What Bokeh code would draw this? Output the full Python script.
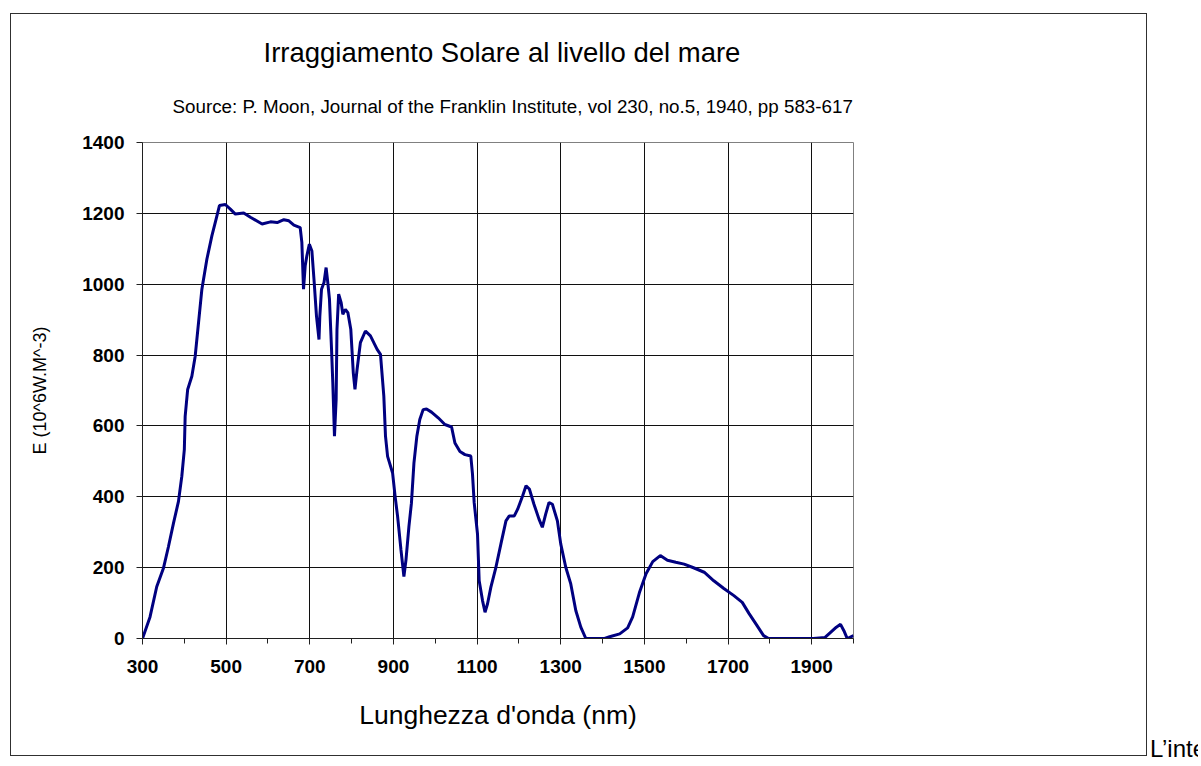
from bokeh.plotting import figure
from bokeh.models import Range1d, FixedTicker, Title, ColumnDataSource, Div
from bokeh.layouts import row
from bokeh.embed import file_html
from bokeh.resources import INLINE

# ---- data ----
wavelength_nm = [300, 318, 334, 350, 362, 374, 386, 394, 400, 402, 408, 418, 426, 434, 442, 454, 466, 476, 484, 498,
                 510, 522, 542, 558, 586, 606, 622, 638, 650, 662, 677, 681, 685, 689, 693, 699, 705, 710, 716, 722,
                 724, 728, 734, 739, 743, 747, 752, 755, 759, 763, 765, 769, 775, 779, 785, 791, 798, 804, 808, 813,
                 821, 833, 845, 861, 869, 877, 881, 886, 898, 904, 910, 918, 925, 930, 937, 943, 949, 956, 963, 971,
                 979, 991, 1007, 1023, 1039, 1047, 1059, 1071, 1085, 1089, 1093, 1101, 1105, 1113, 1119, 1125, 1133,
                 1145, 1157, 1169, 1177, 1189, 1197, 1209, 1217, 1225, 1236, 1248, 1256, 1264, 1272, 1280, 1292, 1300,
                 1312, 1324, 1336, 1348, 1360, 1405, 1417, 1441, 1460, 1472, 1488, 1504, 1520, 1538, 1555, 1575, 1595,
                 1619, 1643, 1666, 1690, 1714, 1734, 1750, 1769, 1785, 1797, 1904, 1932, 1959, 1969, 1977, 1985, 2000]
irradiance = [0, 61, 146, 198, 259, 325, 387, 458, 533, 627, 703, 740, 797, 892, 986, 1071, 1137, 1184, 1222, 1225,
              1212, 1198, 1201, 1189, 1170, 1176, 1174, 1182, 1179, 1167, 1160, 1118, 986, 1052, 1080, 1113, 1094, 1014, 910, 844,
              910, 986, 1005, 1047, 1005, 958, 816, 722, 571, 675, 873, 972, 948, 915, 929, 920, 873, 750, 703, 759,
              835, 868, 854, 816, 802, 684, 571, 514, 467, 401, 344, 250, 175, 222, 316, 382, 495, 571, 618, 646,
              648, 639, 623, 604, 597, 552, 528, 519, 515, 464, 384, 295, 163, 107, 74, 98, 145,
              201, 267, 332, 346, 346, 365, 403, 431, 422, 379, 337, 314, 351, 384, 379, 332, 267,
              201, 154, 79, 32, 0, 0, 5, 13, 30, 61, 129, 183, 217, 234, 221, 215, 210,
              199, 187, 163, 141, 121, 102, 71, 37, 8, 0, 0, 3, 32, 40, 22, 0, 8]

x_major_ticks = [300, 500, 700, 900, 1100, 1300, 1500, 1700, 1900]
x_minor_ticks = [400, 600, 800, 1000, 1200, 1400, 1600, 1800, 2000]
y_ticks = [0, 200, 400, 600, 800, 1000, 1200, 1400]

title_text = "Irraggiamento Solare al livello del mare"
subtitle_text = "Source: P. Moon, Journal of the Franklin Institute, vol 230, no.5, 1940, pp 583-617"
x_title = "Lunghezza d'onda (nm)"
y_title = "E (10^6W.M^-3)"
side_text = "L\u2019intensit\u00e0"

FONT = "Liberation Sans"

# canvas placed inside a 1px CSS border whose outer edge is at (10, 13)
CW, CH = 1137, 743
p = figure(width=CW, height=CH, title=None, output_backend="svg", toolbar_location=None,
           x_range=Range1d(300, 2000), y_range=Range1d(0, 1400),
           min_border_left=131, min_border_top=128, min_border_right=295, min_border_bottom=119,
           margin=(13, 0, 0, 10), styles={"border": "1px solid #303030"})
p.background_fill_color = "white"
p.border_fill_color = "white"
p.outline_line_color = "#808080"
p.outline_line_width = 1

src = ColumnDataSource(dict(x=wavelength_nm, y=irradiance))
p.line("x", "y", source=src, line_color="#000080", line_width=3)

# titles (first added sits closest to the frame)
p.add_layout(Title(text=subtitle_text, align="left", text_font=FONT, text_font_size="18.8px",
                   text_font_style="normal", text_color="black", standoff=52, offset=30), "above")
p.add_layout(Title(text=title_text, align="left", text_font=FONT, text_font_size="27.5px",
                   text_font_style="normal", text_color="black", standoff=0, offset=121), "above")

xa = p.xaxis[0]
xa.ticker = FixedTicker(ticks=x_major_ticks, minor_ticks=x_minor_ticks)
xa.axis_line_color = "#202020"
xa.major_tick_line_color = "#202020"
xa.minor_tick_line_color = "#202020"
xa.major_tick_out = 6
xa.major_tick_in = 0
xa.minor_tick_out = 5
xa.minor_tick_in = 0
xa.major_label_text_font = FONT
xa.major_label_text_font_style = "bold"
xa.major_label_text_font_size = "19px"
xa.major_label_text_color = "black"
xa.major_label_standoff = 15
xa.axis_label = x_title
xa.axis_label_text_font = FONT
xa.axis_label_text_font_style = "normal"
xa.axis_label_text_font_size = "26.5px"
xa.axis_label_text_color = "black"
xa.axis_label_standoff = 24

ya = p.yaxis[0]
ya.ticker = FixedTicker(ticks=y_ticks, minor_ticks=[])
ya.axis_line_color = "#202020"
ya.major_tick_line_color = "#202020"
ya.major_tick_out = 6
ya.major_tick_in = 0
ya.minor_tick_out = 0
ya.major_label_text_font = FONT
ya.major_label_text_font_style = "bold"
ya.major_label_text_font_size = "19px"
ya.major_label_text_color = "black"
ya.major_label_standoff = 12
ya.axis_label = y_title
ya.axis_label_text_font = FONT
ya.axis_label_text_font_style = "normal"
ya.axis_label_text_font_size = "18px"
ya.axis_label_text_color = "black"
ya.axis_label_standoff = 29

p.xgrid[0].ticker = FixedTicker(ticks=x_major_ticks)
p.xgrid[0].grid_line_color = "#101010"
p.ygrid[0].grid_line_color = "#101010"

side = Div(text=side_text, width=48, height=24, margin=(737, 0, 0, 3),
           styles={"font-family": FONT, "font-size": "24px", "line-height": "24px",
                   "white-space": "nowrap", "overflow": "hidden", "color": "black"})

layout = row(p, side)
open("out.html", "w").write(file_html(layout, INLINE))
